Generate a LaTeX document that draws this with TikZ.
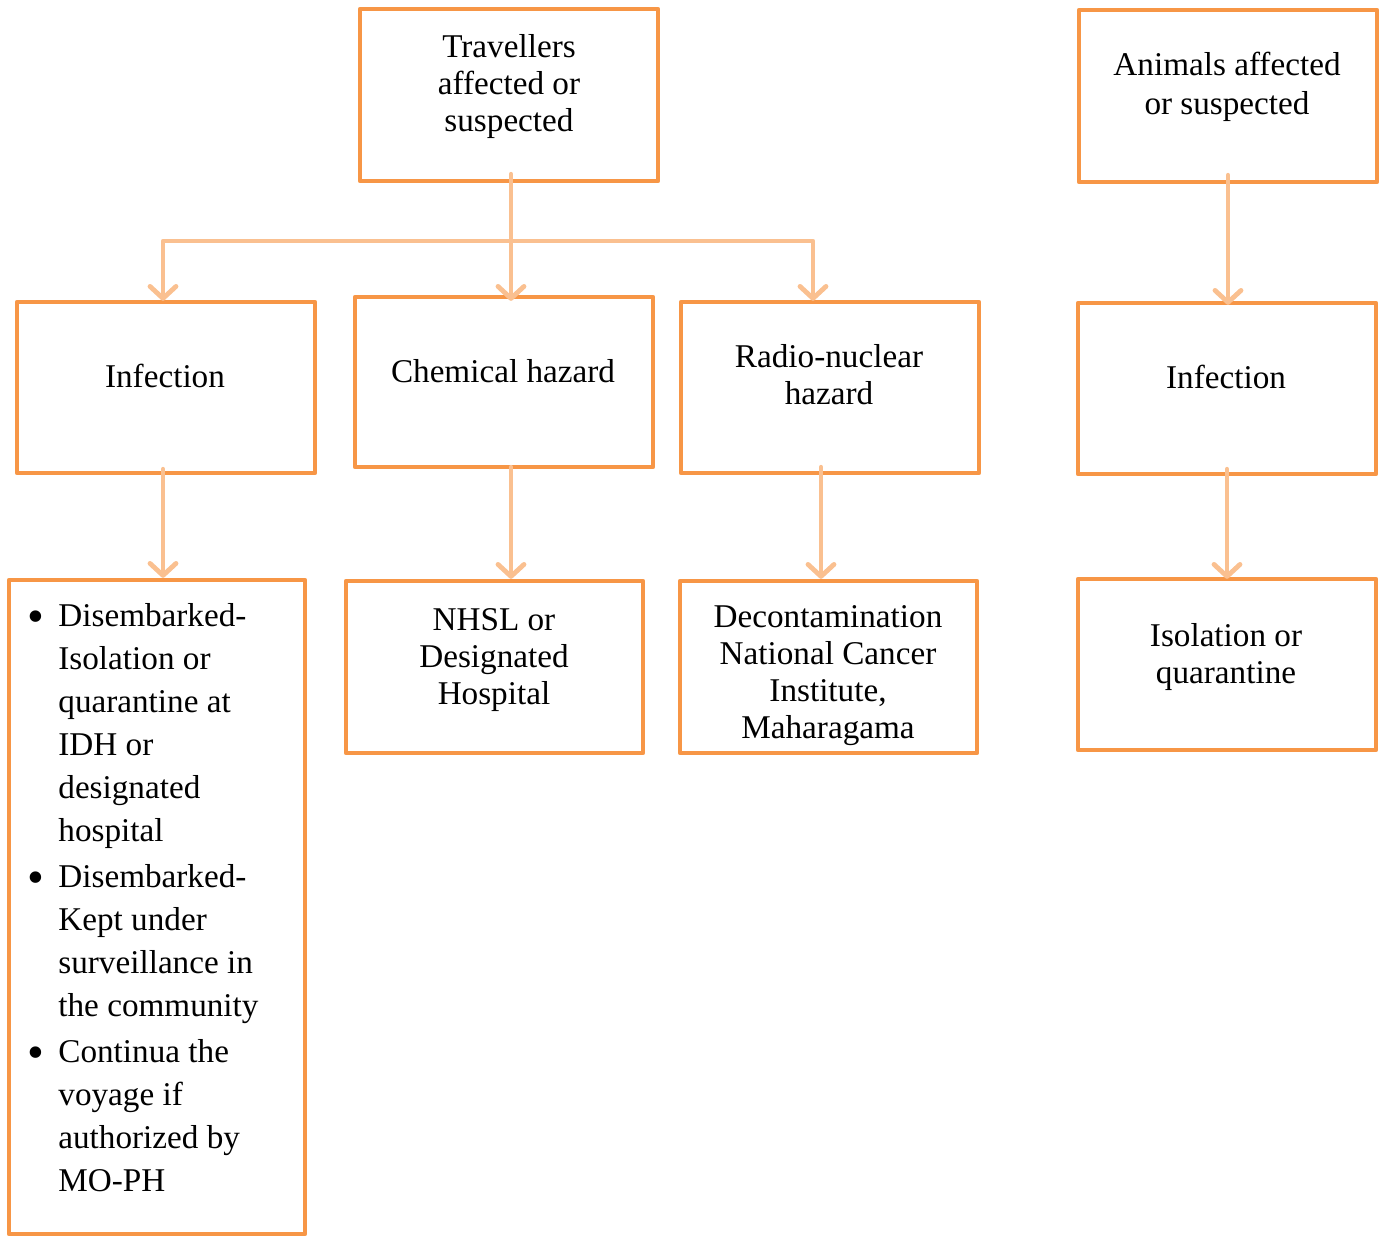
\documentclass[tikz,border=0pt]{standalone}
\usepackage{fontspec}
\setmainfont{Liberation Serif}
\usetikzlibrary{arrows.meta}
\definecolor{boxc}{HTML}{F79646}
\definecolor{arrc}{HTML}{FAC090}
\newcommand{\bigbul}{\raisebox{-3pt}{\fontsize{24}{24}\selectfont\textbullet}}
\begin{document}
\begin{tikzpicture}[x=0.5pt,y=-0.5pt,
  box/.style={draw=boxc, line width=2.2pt, line join=round, inner sep=0pt,
    minimum width=149pt, minimum height=86pt},
  txt/.style={align=center, inner sep=0pt, font=\fontsize{16.6}{18.5}\selectfont},
  conn/.style={draw=arrc, line width=2.4pt, line cap=round, line join=round},
  arr/.style={conn, -{Straight Barb[round, length=6pt, width=13pt]}}]
\useasboundingbox (0,0) rectangle (1384,1236);
% boxes
\node[box] (trav) at (509,95) {};
\node[box] (anim) at (1228,96) {};
\node[box, minimum height=85.5pt] (inf1) at (166,387.5) {};
\node[box, minimum height=85pt] (chem) at (504,382) {};
\node[box, minimum height=85.5pt] (rad) at (830,387.5) {};
\node[box, minimum height=85.5pt] (inf2) at (1227,388.5) {};
\node[box, minimum width=148pt, minimum height=327pt] (lbox) at (157,907) {};
\node[box, minimum width=148.5pt] (nhsl) at (494.5,667) {};
\node[box, minimum width=148.5pt] (dec) at (828.5,667) {};
\node[box, minimum height=85.5pt] (iso) at (1227,664.5) {};
% texts
\node[txt] (travT) at (509,86.5) {Travellers\\affected or\\suspected};
\node[txt, font=\fontsize{16.6}{19.5}\selectfont] (animT) at (1227,86.5) {Animals affected\\or suspected};
\node[txt] (inf1T) at (165,376) {Infection};
\node[txt] (chemT) at (503,371) {Chemical hazard};
\node[txt] (radT) at (829,375) {Radio-nuclear\\hazard};
\node[txt] (inf2T) at (1226,377) {Infection};
\node[txt] (nhslT) at (494,660) {NHSL or\\Designated\\Hospital};
\node[txt] (decT) at (828,675.5) {Decontamination\\National Cancer\\Institute,\\Maharagama};
\node[txt] (isoT) at (1226,657.5) {Isolation or\\quarantine};
\node[anchor=base west, inner sep=0pt, font=\fontsize{16.6}{21.5}\selectfont] (listT) at (27,626)
{\begin{tabular}[t]{@{}p{15.5pt}@{}l@{}}
\bigbul & Disembarked-\\
 & Isolation or\\
 & quarantine at\\
 & IDH or\\
 & designated\\
 & hospital\\[1.5pt]
\bigbul & Disembarked-\\
 & Kept under\\
 & surveillance in\\
 & the community\\[1.5pt]
\bigbul & Continua the\\
 & voyage if\\
 & authorized by\\
 & MO-PH
\end{tabular}};
% connectors
\coordinate (hubM) at (511,241);
\coordinate (hubL) at (163,241);
\coordinate (hubR) at (813,241);
\draw[arr] ([xshift=1pt,yshift=4.5pt]trav.south) -- ([xshift=1pt,yshift=-3pt]trav.south |- chem.north);
\draw[arr] (hubM) -- (hubL) -- ([yshift=-0.5pt]hubL |- inf1.north);
\draw[arr] (hubM) -- (hubR) -- ([yshift=-0.5pt]hubR |- rad.north);
\draw[arr] ([xshift=-1.5pt,yshift=3pt]inf1.south) -- ([xshift=-1.5pt]inf1.south |- lbox.north);
\draw[arr] ([xshift=3.5pt,yshift=1pt]chem.south) -- ([xshift=3.5pt]chem.south |- nhsl.north);
\draw[arr] ([xshift=-4.5pt,yshift=4pt]rad.south) -- ([xshift=-4.5pt]rad.south |- dec.north);
\draw[arr] ([yshift=4.5pt]anim.south) -- ([yshift=-2pt]anim.south |- inf2.north);
\draw[arr] ([yshift=3.5pt]inf2.south) -- ([yshift=-1pt]inf2.south |- iso.north);
\end{tikzpicture}
\end{document}
